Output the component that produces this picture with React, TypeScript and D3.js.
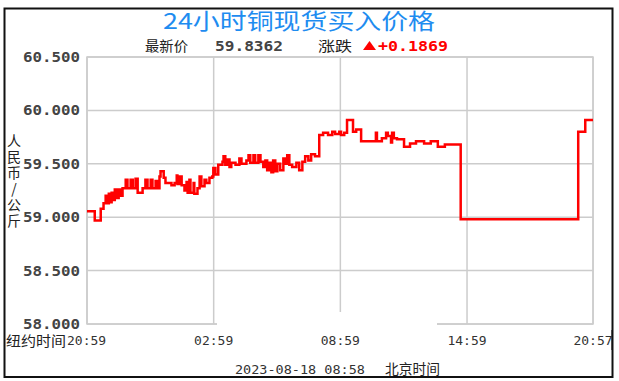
import React from "react";
import * as d3 from "d3";

// minutes after 20:59 (NY time) and price (CNY/kg)
const minutes = [0, 22, 39, 47, 53, 56, 62, 64, 70, 73, 79, 84, 90, 96, 101, 110, 115, 124, 130, 138, 144, 158, 166, 172, 181, 186, 195, 200, 206, 209, 218, 223, 240, 249, 255, 257, 263, 269, 277, 283, 286, 291, 294, 303, 305, 314, 320, 325, 334, 339, 348, 356, 359, 365, 373, 385, 388, 393, 399, 405, 410, 422, 433, 439, 453, 459, 464, 473, 478, 487, 493, 501, 507, 512, 518, 524, 529, 535, 541, 549, 558, 563, 569, 575, 583, 595, 603, 612, 620, 629, 637, 648, 660, 671, 685, 697, 705, 717, 722, 731, 739, 756, 765, 779, 821, 824, 838, 850, 855, 864, 867, 872, 881, 901, 918, 935, 958, 977, 997, 1017, 1062, 1396, 1416, 1438];
const prices = [59.056, 58.97, 59.08, 59.13, 59.2, 59.13, 59.22, 59.14, 59.23, 59.16, 59.26, 59.18, 59.26, 59.2, 59.27, 59.35, 59.27, 59.35, 59.27, 59.36, 59.23, 59.27, 59.35, 59.27, 59.35, 59.27, 59.34, 59.27, 59.38, 59.43, 59.37, 59.32, 59.3, 59.32, 59.39, 59.31, 59.38, 59.3, 59.25, 59.33, 59.23, 59.35, 59.23, 59.32, 59.22, 59.27, 59.38, 59.29, 59.35, 59.32, 59.37, 59.38, 59.46, 59.4, 59.49, 59.52, 59.57, 59.49, 59.54, 59.47, 59.51, 59.49, 59.55, 59.5, 59.53, 59.58, 59.51, 59.58, 59.51, 59.58, 59.52, 59.47, 59.53, 59.44, 59.51, 59.42, 59.53, 59.43, 59.5, 59.44, 59.55, 59.5, 59.58, 59.49, 59.47, 59.51, 59.44, 59.52, 59.57, 59.53, 59.59, 59.57, 59.77, 59.79, 59.77, 59.8, 59.78, 59.8, 59.77, 59.79, 59.91, 59.8, 59.82, 59.71, 59.79, 59.71, 59.74, 59.79, 59.76, 59.7, 59.79, 59.74, 59.73, 59.66, 59.69, 59.71, 59.69, 59.71, 59.66, 59.68, 58.98, 59.8, 59.91, 59.91];

const yTicks = [58.0, 58.5, 59.0, 59.5, 60.0, 60.5];
const xTickMinutes = [0, 360, 720, 1080, 1438];
const xTickLabels = ["20:59", "02:59", "08:59", "14:59", "20:57"];

const title = "24小时铜现货买入价格";
const latestLabel = "最新价";
const latestValue = "59.8362";
const changeLabel = "涨跌";
const changeValue = "+0.1869";
const yAxisTitle = "人民币/公斤";
const nyLabel = "纽约时间";
const dateLabel = "2023-08-18 08:58";
const bjLabel = "北京时间";

const W = 619;
const H = 381;
const L = 87;
const R = 593;
const T = 57;
const B = 324;

export default function App() {
  const x = d3.scaleLinear().domain([0, 1438]).range([L, R]);
  const y = d3.scaleLinear().domain([58, 60.5]).range([B, T]);
  const data = minutes.map((m, i) => [m, prices[i]] as [number, number]);
  const line = d3
    .line<[number, number]>()
    .x((d) => x(d[0]))
    .y((d) => y(d[1]))
    .curve(d3.curveStepAfter);

  const cjk = "'Noto Sans CJK SC', sans-serif";
  const mono = "'DejaVu Sans Mono', monospace";

  return (
    <svg
      width={W}
      height={H}
      style={{ position: "absolute", left: 0, top: 0, background: "#fff" }}
    >
      <rect x={0} y={0} width={W} height={H} fill="#fff" />
      <rect x={4.5} y={8.5} width={608} height={368.5} fill="#fff" stroke="#111" strokeWidth={2} />

      {/* title */}
      <text x={299} y={29} textAnchor="middle" fontFamily={cjk} fontSize={22} fill="#1e8cf0" textLength={272} lengthAdjust="spacingAndGlyphs">
        {title}
      </text>
      <text x={145} y={51} fontFamily={cjk} fontSize={14} fill="#222" textLength={43} lengthAdjust="spacingAndGlyphs">
        {latestLabel}
      </text>
      <text x={215} y={51} fontFamily={mono} fontSize={14} fontWeight="bold" fill="#444" textLength={68} lengthAdjust="spacingAndGlyphs">
        {latestValue}
      </text>
      <text x={318} y={51} fontFamily={cjk} fontSize={14} fill="#222" textLength={34} lengthAdjust="spacingAndGlyphs">
        {changeLabel}
      </text>
      <path d="M363,50 L369.5,41 L376,50 Z" fill="#ff0000" />
      <text x={378} y={51} fontFamily={mono} fontSize={14} fontWeight="bold" fill="#ff0000" textLength={70} lengthAdjust="spacingAndGlyphs">
        {changeValue}
      </text>

      {/* grid */}
      <rect x={L} y={T} width={R - L} height={B - T} fill="#fff" stroke="#cccccc" strokeWidth={1.5} />
      {yTicks.map((t) => (
        <line key={"h" + t} x1={L} x2={R} y1={y(t)} y2={y(t)} stroke="#cccccc" strokeWidth={1.5} />
      ))}
      {xTickMinutes.map((m) => (
        <line key={"v" + m} x1={x(m)} x2={x(m)} y1={T} y2={B} stroke="#cccccc" strokeWidth={1.5} />
      ))}

      {/* erased patch near bottom */}
      <rect x={217} y={312} width={220} height={18} fill="#fff" />

      {/* y tick labels */}
      {yTicks.map((t) => (
        <text key={"yl" + t} x={80} y={y(t)} dy="0.35em" textAnchor="end" fontFamily={mono} fontSize={14} fontWeight="bold" fill="#444" textLength={57} lengthAdjust="spacingAndGlyphs">
          {d3.format(".3f")(t)}
        </text>
      ))}

      {/* y axis title (vertical, upright glyphs) */}
      <text
        x={14}
        y={134}
        fontFamily={cjk}
        fontSize={14}
        fill="#222"
        style={{ writingMode: "vertical-rl", textOrientation: "upright", letterSpacing: "2px" } as React.CSSProperties}
      >
        {yAxisTitle}
      </text>

      {/* x tick labels */}
      <text x={6} y={346} fontFamily={cjk} fontSize={14} fill="#222" textLength={60} lengthAdjust="spacingAndGlyphs">
        {nyLabel}
      </text>
      {xTickLabels.map((lab, i) => (
        <text
          key={"xl" + i}
          x={i === 0 ? 67 : x(xTickMinutes[i])}
          y={345}
          textAnchor={i === 0 ? "start" : "middle"}
          fontFamily={mono}
          fontSize={13}
          fill="#333"
        >
          {lab}
        </text>
      ))}
      <rect x={612} y={330} width={7} height={20} fill="#fff" />
      <line x1={612.5} x2={612.5} y1={330} y2={350} stroke="#111" strokeWidth={2} />

      <text x={235} y={374} fontFamily={mono} fontSize={13} fill="#333" textLength={130} lengthAdjust="spacingAndGlyphs">
        {dateLabel}
      </text>
      <text x={385} y={374} fontFamily={cjk} fontSize={14} fill="#222" textLength={55} lengthAdjust="spacingAndGlyphs">
        {bjLabel}
      </text>

      {/* price line */}
      <path d={line(data) || ""} fill="none" stroke="#ff0000" strokeWidth={2.5} />
    </svg>
  );
}
